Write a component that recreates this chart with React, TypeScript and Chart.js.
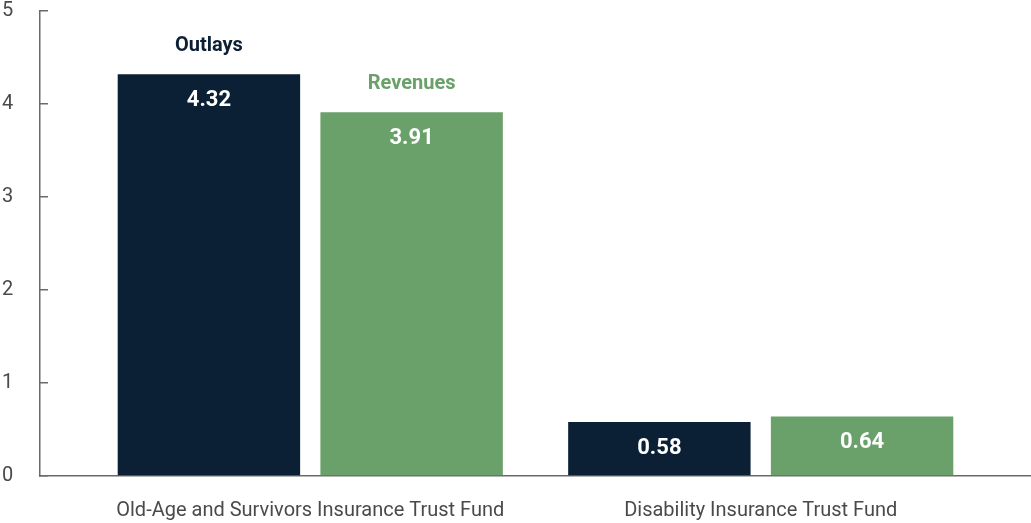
import React, { useEffect, useRef } from "react";
import { Chart, registerables } from "chart.js";

Chart.register(...registerables);

const categories = ["Old-Age and Survivors Insurance Trust Fund", "Disability Insurance Trust Fund"];
const seriesNames = ["Outlays", "Revenues"];
const outlays = [4.32, 0.58];
const revenues = [3.91, 0.64];
const yTicks = [0, 1, 2, 3, 4, 5];

const seriesColors = ["#0b2035", "#6aa16a"];
const axisColor = "#6a6a6a";
const textColor = "#4a4a4a";
const fontFamily = "Roboto, 'Open Sans', sans-serif";

const barLabels = {
  id: "barLabels",
  afterDatasetsDraw(chart: any) {
    const ctx = chart.ctx;
    ctx.save();
    ctx.textAlign = "center";
    ctx.textBaseline = "middle";
    chart.data.datasets.forEach((ds: any, di: number) => {
      const meta = chart.getDatasetMeta(di);
      meta.data.forEach((bar: any, i: number) => {
        const v = ds.data[i].y;
        ctx.font = `bold 22px ${fontFamily}`;
        ctx.fillStyle = "#ffffff";
        ctx.fillText(v.toFixed(2), bar.x, bar.y + 26);
        if (i === 0) {
          ctx.font = `bold 20px ${fontFamily}`;
          ctx.fillStyle = seriesColors[di];
          ctx.fillText(ds.label, bar.x, bar.y - 28);
        }
      });
    });
    ctx.restore();
  },
};

export default function App() {
  const ref = useRef<HTMLCanvasElement>(null);

  useEffect(() => {
    if (!ref.current) return;
    const series = [outlays, revenues];
    const chart = new Chart(ref.current, {
      type: "bar",
      data: {
        datasets: series.map((vals, si) => ({
          label: seriesNames[si],
          data: categories.map((_, i) => ({ x: i + 1, y: vals[i] })),
          backgroundColor: seriesColors[si],
          borderWidth: 0,
          categoryPercentage: 0.9,
          barPercentage: 0.9,
        })),
      },
      options: {
        animation: false,
        responsive: true,
        maintainAspectRatio: false,
        layout: { padding: { top: 11, left: 2, right: 0, bottom: 0 } },
        plugins: {
          legend: { display: false },
          tooltip: { enabled: false },
        },
        scales: {
          x: {
            type: "linear",
            offset: false,
            bounds: "data",
            min: 0.4,
            max: 2.6,
            afterBuildTicks: (scale: any) => {
              scale.ticks = categories.map((_, i) => ({ value: i + 1 }));
            },
            afterFit: (scale: any) => {
              scale.height = 47;
            },
            grid: { display: true, offset: false, drawOnChartArea: false, drawTicks: false },
            border: { display: true, color: axisColor, width: 1.5 },
            ticks: {
              autoSkip: false,
              maxRotation: 0,
              padding: 23,
              color: textColor,
              font: { family: fontFamily, size: 20 },
              callback: (v: any) => categories[Math.round(v) - 1] ?? "",
            },
          },
          y: {
            type: "linear",
            min: 0,
            max: 5,
            afterBuildTicks: (scale: any) => {
              scale.ticks = yTicks.map((v) => ({ value: v }));
            },
            afterFit: (scale: any) => {
              scale.width = 38;
            },
            grid: {
              display: true,
              drawOnChartArea: false,
              drawTicks: true,
              tickLength: -8,
              color: axisColor,
              lineWidth: 1.5,
            },
            border: { display: true, color: axisColor, width: 1.5 },
            ticks: {
              crossAlign: "far",
              padding: 0,
              color: textColor,
              font: { family: fontFamily, size: 20, lineHeight: 1 },
            },
          },
        },
      },
      plugins: [barLabels],
    });
    return () => chart.destroy();
  }, []);

  return (
    <div style={{ position: "absolute", left: 0, top: 0, width: 1031, height: 523 }}>
      <canvas ref={ref} />
    </div>
  );
}
